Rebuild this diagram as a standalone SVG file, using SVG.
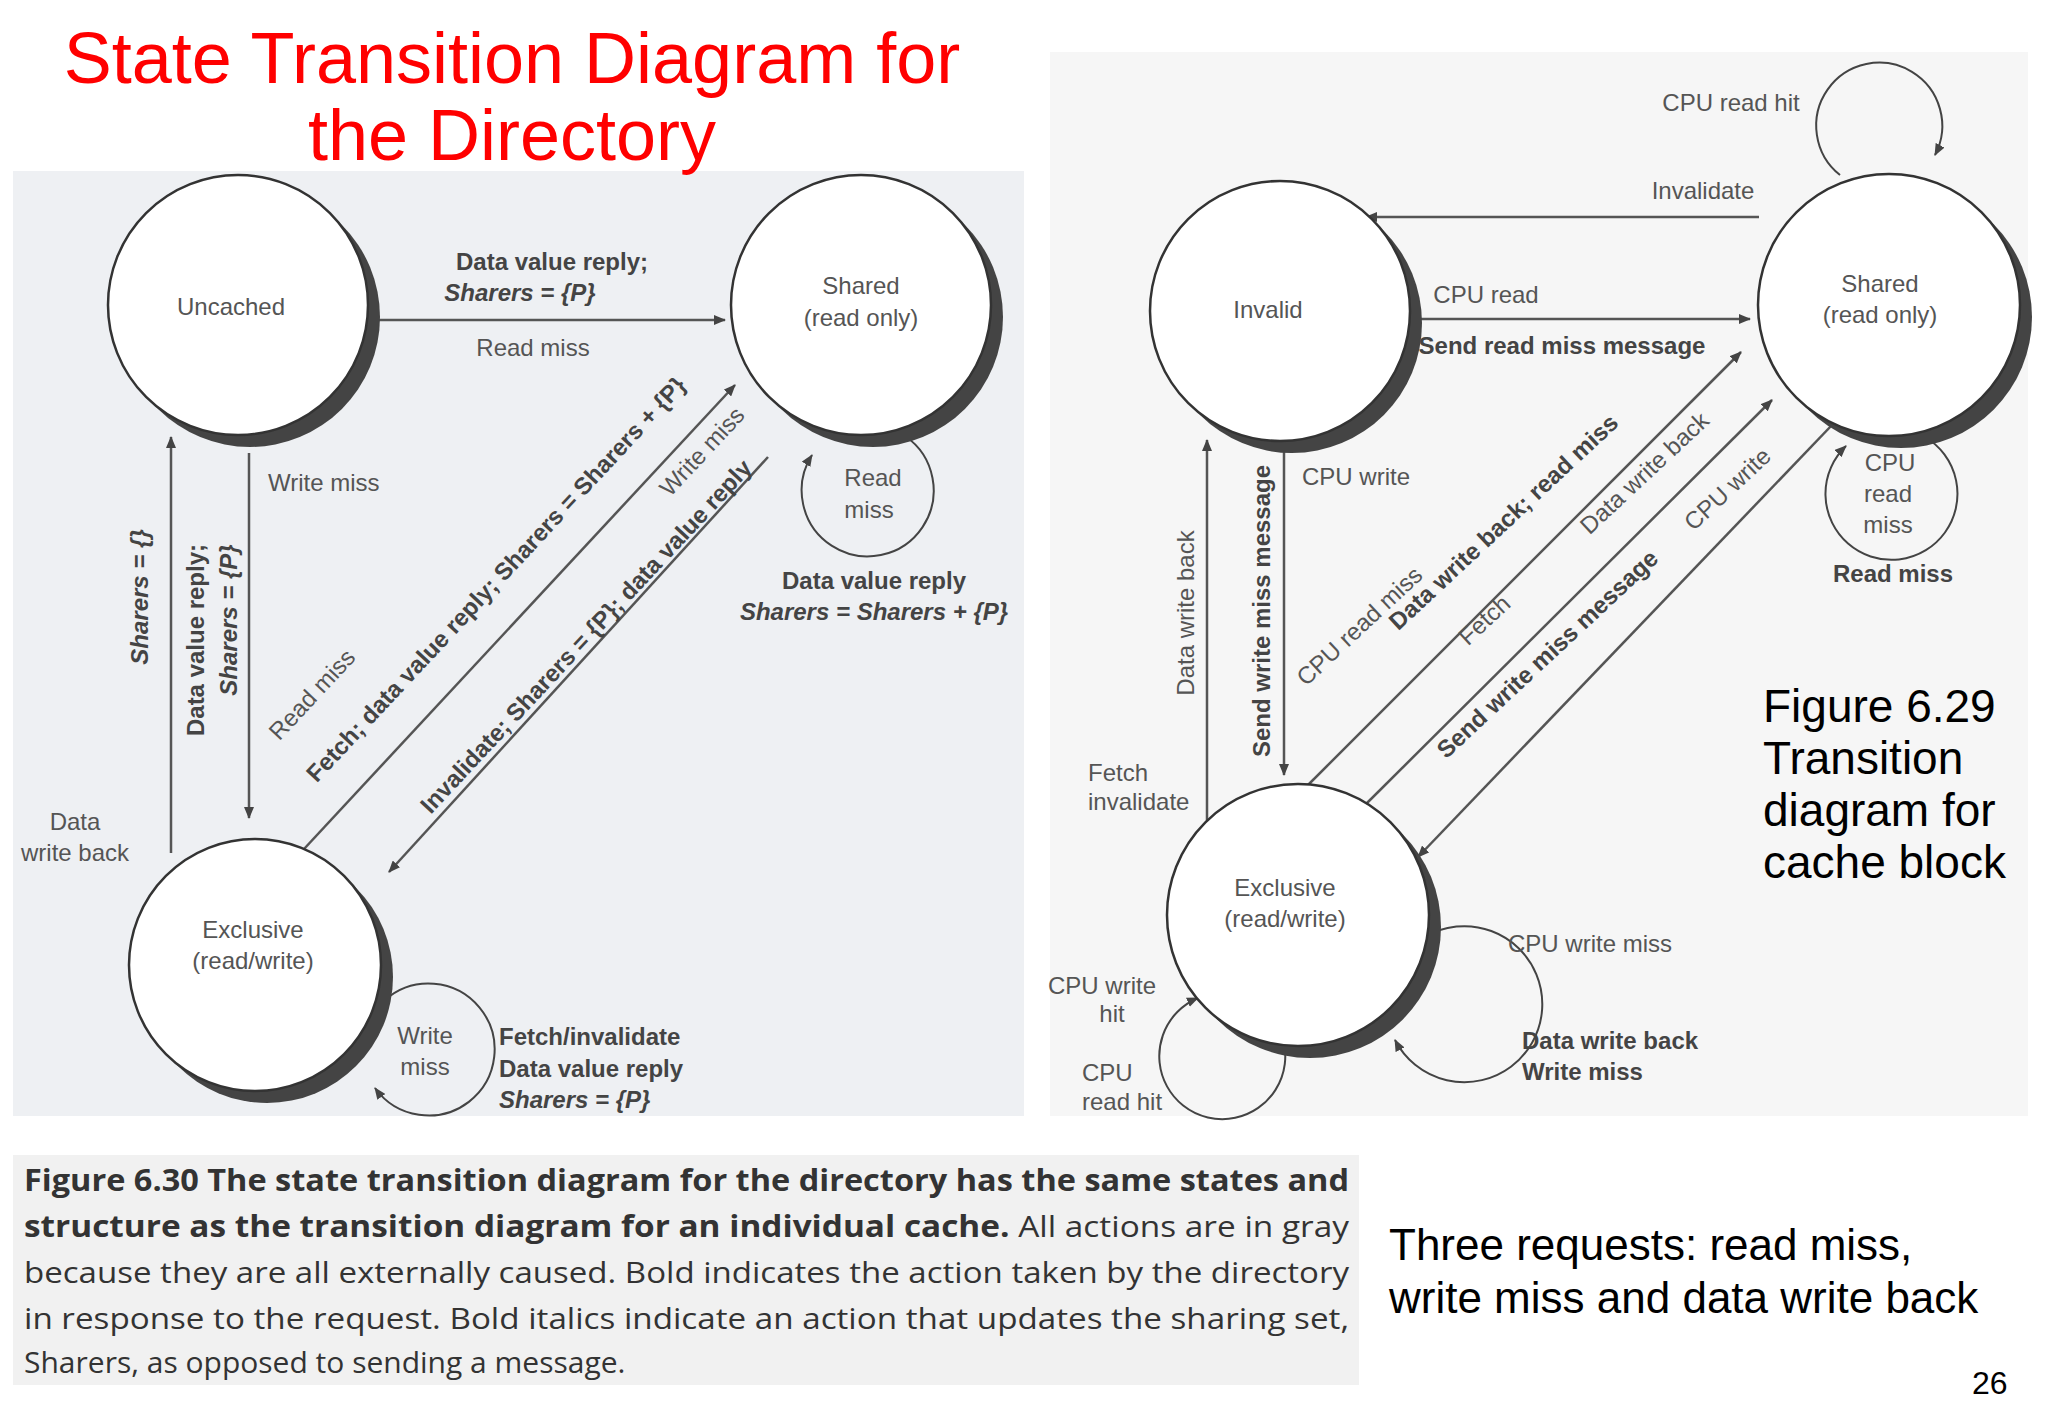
<svg xmlns="http://www.w3.org/2000/svg" width="2048" height="1418" viewBox="0 0 2048 1418">
<style>
.t{font-family:"Liberation Sans",Arial,sans-serif;fill:#555;font-size:24px}
.b{font-weight:bold;fill:#444}
.i{font-style:italic;font-weight:bold;fill:#444}
.st{fill:#fff;stroke:#333;stroke-width:2.5}
.sh{fill:#444}
.ln{stroke:#555;stroke-width:2.5;fill:none}
.lp{stroke:#444;stroke-width:2;fill:none}
.cap{font-family:"Open Sans","Liberation Sans",sans-serif;font-size:30px;fill:#333}
.big{font-family:"Liberation Sans",Arial,sans-serif;fill:#000}
</style>
<defs>
<marker id="ah" viewBox="0 0 12 10" refX="11" refY="5" markerWidth="12" markerHeight="10" markerUnits="userSpaceOnUse" orient="auto"><path d="M0,0 L12,5 L0,10 Z" fill="#444"/></marker>
</defs>
<rect width="2048" height="1418" fill="#fff"/>
<rect x="13" y="171" width="1011" height="945" fill="#eef0f3"/>
<rect x="1050" y="52" width="978" height="1064" fill="#f6f6f6"/>
<rect x="13" y="1155" width="1346" height="230" fill="#f1f1f1"/>

<text class="big" x="512" y="83" font-size="72" style="fill:#f00" text-anchor="middle">State Transition Diagram for</text>
<text class="big" x="512" y="160" font-size="72" style="fill:#f00" text-anchor="middle">the Directory</text>

<g id="connectors">
<line class="ln" x1="372" y1="320" x2="725" y2="320" marker-end="url(#ah)"/>
<line class="ln" x1="171" y1="853" x2="171" y2="437" marker-end="url(#ah)"/>
<line class="ln" x1="249" y1="453" x2="249" y2="818" marker-end="url(#ah)"/>
<line class="ln" x1="291" y1="863" x2="735" y2="385" marker-end="url(#ah)"/>
<line class="ln" x1="768" y1="457" x2="389" y2="872" marker-end="url(#ah)"/>
<path class="lp" d="M905,436 A66,66 0 1 1 812,455" marker-end="url(#ah)"/>
<path class="lp" d="M385,1000 A66,66 0 1 1 375,1088" marker-end="url(#ah)"/>

<line class="ln" x1="1759" y1="217" x2="1366" y2="217" marker-end="url(#ah)"/>
<line class="ln" x1="1411" y1="319" x2="1750" y2="319" marker-end="url(#ah)"/>
<line class="ln" x1="1207" y1="847" x2="1207" y2="440" marker-end="url(#ah)"/>
<line class="ln" x1="1284" y1="444" x2="1284" y2="775" marker-end="url(#ah)"/>
<line class="ln" x1="1303" y1="790" x2="1741" y2="352" marker-end="url(#ah)"/>
<line class="ln" x1="1365" y1="805" x2="1772" y2="400" marker-end="url(#ah)"/>
<line class="ln" x1="1832" y1="425" x2="1418" y2="857" marker-end="url(#ah)"/>
<path class="lp" d="M1840,175 A63,63 0 1 1 1935,155" marker-end="url(#ah)"/>
<path class="lp" d="M1925,437 A66,66 0 1 1 1846,446" marker-end="url(#ah)"/>
<path class="lp" d="M1400,960 A78,78 0 1 1 1395,1040" marker-end="url(#ah)"/>
<path class="lp" d="M1270,1015 A63,63 0 1 1 1198,998" marker-end="url(#ah)"/>
</g>

<g id="uncached"><circle class="sh" cx="250" cy="317" r="130"/><circle class="st" cx="238" cy="305" r="130"/><text class="t" x="231" y="315" text-anchor="middle">Uncached</text></g>
<g id="shared-dir"><circle class="sh" cx="873" cy="317" r="130"/><circle class="st" cx="861" cy="305" r="130"/><text class="t" x="861" y="294" text-anchor="middle">Shared</text><text class="t" x="861" y="326" text-anchor="middle">(read only)</text></g>
<g id="exclusive-dir"><circle class="sh" cx="267" cy="977" r="126"/><circle class="st" cx="255" cy="965" r="126"/><text class="t" x="253" y="938" text-anchor="middle">Exclusive</text><text class="t" x="253" y="969" text-anchor="middle">(read/write)</text></g>

<g id="invalid"><circle class="sh" cx="1292" cy="323" r="130"/><circle class="st" cx="1280" cy="311" r="130"/><text class="t" x="1268" y="318" text-anchor="middle">Invalid</text></g>
<g id="shared-cache"><circle class="sh" cx="1901" cy="317" r="131"/><circle class="st" cx="1889" cy="305" r="131"/><text class="t" x="1880" y="292" text-anchor="middle">Shared</text><text class="t" x="1880" y="323" text-anchor="middle">(read only)</text></g>
<g id="exclusive-cache"><circle class="sh" cx="1310" cy="927" r="131"/><circle class="st" cx="1298" cy="915" r="131"/><text class="t" x="1285" y="896" text-anchor="middle">Exclusive</text><text class="t" x="1285" y="927" text-anchor="middle">(read/write)</text></g>

<g id="labels-left">
<text class="t b" x="552" y="270" text-anchor="middle">Data value reply;</text>
<text class="t i" x="520" y="301" text-anchor="middle">Sharers = {P}</text>
<text class="t" x="533" y="356" text-anchor="middle">Read miss</text>
<text class="t" x="268" y="491">Write miss</text>
<text class="t i" transform="translate(148,597) rotate(-90)" text-anchor="middle">Sharers = {}</text>
<text class="t b" transform="translate(204,640) rotate(-90)" text-anchor="middle">Data value reply;</text>
<text class="t i" transform="translate(237,620) rotate(-90)" text-anchor="middle">Sharers = {P}</text>
<text class="t" x="75" y="830" text-anchor="middle">Data</text>
<text class="t" x="75" y="861" text-anchor="middle">write back</text>
<text class="t" transform="translate(318,700) rotate(-47)" text-anchor="middle">Read miss</text>
<text class="t b" transform="translate(502,585) rotate(-47)" text-anchor="middle">Fetch; data value reply; Sharers = Sharers + {P}</text>
<text class="t" transform="translate(708,457) rotate(-47)" text-anchor="middle">Write miss</text>
<text class="t b" transform="translate(592,642) rotate(-47)" text-anchor="middle">Invalidate; Sharers = {P}; data value reply</text>
<text class="t" x="873" y="486" text-anchor="middle">Read</text>
<text class="t" x="869" y="518" text-anchor="middle">miss</text>
<text class="t b" x="874" y="589" text-anchor="middle">Data value reply</text>
<text class="t i" x="874" y="620" text-anchor="middle">Sharers = Sharers + {P}</text>
<text class="t" x="425" y="1044" text-anchor="middle">Write</text>
<text class="t" x="425" y="1075" text-anchor="middle">miss</text>
<text class="t b" x="499" y="1045">Fetch/invalidate</text>
<text class="t b" x="499" y="1077">Data value reply</text>
<text class="t i" x="499" y="1108">Sharers = {P}</text>
</g>

<g id="labels-right">
<text class="t" x="1731" y="111" text-anchor="middle">CPU read hit</text>
<text class="t" x="1703" y="199" text-anchor="middle">Invalidate</text>
<text class="t" x="1486" y="303" text-anchor="middle">CPU read</text>
<text class="t b" x="1562" y="354" text-anchor="middle">Send read miss message</text>
<text class="t" transform="translate(1194,613) rotate(-90)" text-anchor="middle">Data write back</text>
<text class="t b" transform="translate(1270,611) rotate(-90)" text-anchor="middle">Send write miss message</text>
<text class="t" x="1302" y="485">CPU write</text>
<text class="t" x="1088" y="781">Fetch</text>
<text class="t" x="1088" y="810">invalidate</text>
<text class="t" transform="translate(1365,632) rotate(-43)" text-anchor="middle">CPU read miss</text>
<text class="t b" transform="translate(1509,528) rotate(-43)" text-anchor="middle">Data write back; read miss</text>
<text class="t" transform="translate(1650,479) rotate(-43)" text-anchor="middle">Data write back</text>
<text class="t" transform="translate(1490,626) rotate(-43)" text-anchor="middle">Fetch</text>
<text class="t" transform="translate(1733,495) rotate(-43)" text-anchor="middle">CPU write</text>
<text class="t b" transform="translate(1553,660) rotate(-43)" text-anchor="middle">Send write miss message</text>
<text class="t" x="1890" y="471" text-anchor="middle">CPU</text>
<text class="t" x="1888" y="502" text-anchor="middle">read</text>
<text class="t" x="1888" y="533" text-anchor="middle">miss</text>
<text class="t b" x="1893" y="582" text-anchor="middle">Read miss</text>
<text class="t" x="1590" y="952" text-anchor="middle">CPU write miss</text>
<text class="t b" x="1522" y="1049">Data write back</text>
<text class="t b" x="1522" y="1080">Write miss</text>
<text class="t" x="1102" y="994" text-anchor="middle">CPU write</text>
<text class="t" x="1112" y="1022" text-anchor="middle">hit</text>
<text class="t" x="1082" y="1081">CPU</text>
<text class="t" x="1082" y="1110">read hit</text>
</g>

<g id="notes">
<text class="big" font-size="46" x="1763" y="722">Figure 6.29</text>
<text class="big" font-size="46" x="1763" y="774">Transition</text>
<text class="big" font-size="46" x="1763" y="826">diagram for</text>
<text class="big" font-size="46" x="1763" y="878">cache block</text>
<text class="big" font-size="44" x="1389" y="1260">Three requests: read miss,</text>
<text class="big" font-size="44" x="1389" y="1313">write miss and data write back</text>
<text class="big" font-size="32" x="1972" y="1394">26</text>
</g>

<g id="caption">
<text class="cap" x="24" y="1191" font-weight="bold" textLength="1325" lengthAdjust="spacingAndGlyphs">Figure 6.30  The state transition diagram for the directory has the same states and</text>
<text class="cap" x="24" y="1237" textLength="1325" lengthAdjust="spacingAndGlyphs"><tspan font-weight="bold">structure as the transition diagram for an individual cache.</tspan> All actions are in gray</text>
<text class="cap" x="24" y="1283" textLength="1325" lengthAdjust="spacingAndGlyphs">because they are all externally caused. Bold indicates the action taken by the directory</text>
<text class="cap" x="24" y="1329" textLength="1325" lengthAdjust="spacingAndGlyphs">in response to the request. Bold italics indicate an action that updates the sharing set,</text>
<text class="cap" x="24" y="1373">Sharers, as opposed to sending a message.</text>
</g>
</svg>
